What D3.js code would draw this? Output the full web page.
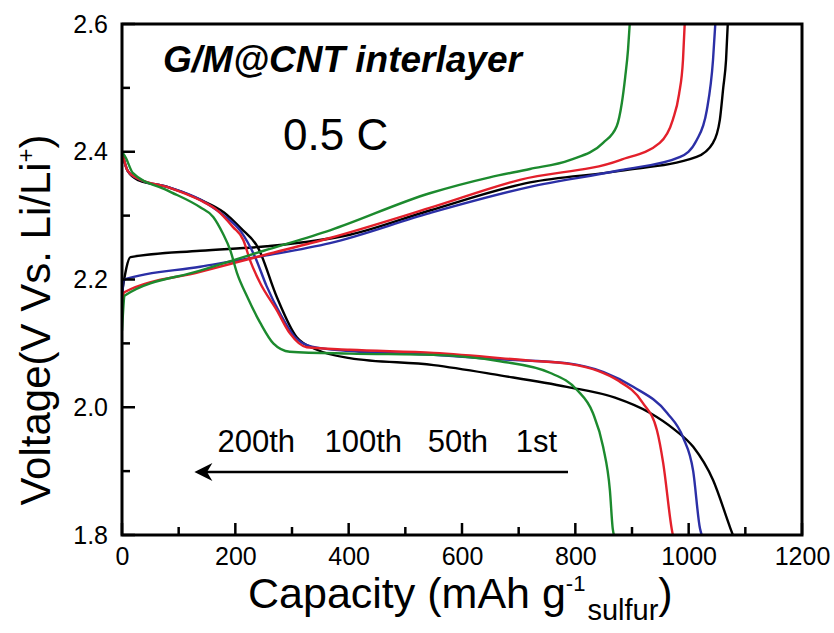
<!DOCTYPE html>
<html>
<head>
<meta charset="utf-8">
<script src="https://cdn.jsdelivr.net/npm/d3@7"></script>
<style>
  body { margin: 0; background: #fff; }
  text { font-family: "Liberation Sans", Arial, sans-serif; fill: #000; }
</style>
</head>
<body>
<div id="chart"></div>
<script>
// cycle labels and colours
var cycles = ['1st', '50th', '100th', '200th'];
var cycleColors = ['#000000', '#2b2fa6', '#e3202b', '#1c8a2e'];

// discharge curves [capacity, voltage]
var discharge1st = [[0,2.40],[10,2.37],[30,2.355],[80,2.345],[138,2.325],[180,2.305],[210,2.28],[240,2.25],[273,2.173],[308,2.11],[344,2.09],[402,2.077],[550,2.066],[667,2.05],[785,2.032],[870,2.015],[932,1.991],[975,1.965],[1008,1.938],[1043,1.886],[1073,1.812],[1078,1.80]];
var discharge50th = [[0,2.40],[10,2.37],[30,2.357],[80,2.345],[138,2.325],[180,2.30],[210,2.275],[235,2.235],[255,2.19],[280,2.145],[305,2.11],[335,2.095],[402,2.088],[550,2.082],[667,2.075],[785,2.069],[850,2.055],[902,2.032],[962,1.991],[990,1.953],[1008,1.90],[1020,1.81],[1023,1.80]];
var discharge100th = [[0,2.40],[10,2.37],[26,2.359],[79,2.345],[138,2.324],[167,2.309],[196,2.282],[214,2.262],[226,2.23],[244,2.194],[273,2.152],[296,2.116],[326,2.094],[402,2.09],[550,2.085],[720,2.073],[789,2.068],[840,2.057],[873,2.043],[919,2.007],[944,1.964],[955,1.913],[970,1.81],[972,1.80]];
var discharge200th = [[0,2.40],[7,2.39],[19,2.367],[79,2.34],[138,2.313],[161,2.298],[178,2.272],[191,2.246],[203,2.21],[221,2.173],[244,2.132],[267,2.10],[296,2.087],[402,2.084],[550,2.082],[667,2.072],[755,2.054],[803,2.027],[831,1.991],[849,1.938],[861,1.87],[866,1.81],[868,1.80]];

// charge curves [capacity, voltage]
var charge1st = [[0,2.18],[15,2.235],[138,2.245],[256,2.252],[402,2.27],[543,2.308],[720,2.352],[879,2.37],[1014,2.392],[1043,2.414],[1055,2.45],[1061,2.50],[1066,2.544],[1069,2.60]];
var charge50th = [[0,2.17],[4,2.20],[138,2.22],[250,2.237],[367,2.257],[543,2.304],[720,2.345],[879,2.371],[985,2.392],[1014,2.418],[1032,2.465],[1043,2.544],[1047,2.60]];
var charge100th = [[0,2.15],[4,2.18],[138,2.212],[250,2.238],[367,2.265],[543,2.312],[702,2.356],[879,2.387],[949,2.414],[972,2.45],[983,2.49],[990,2.544],[993,2.60]];
var charge200th = [[0,2.12],[5,2.175],[138,2.214],[250,2.245],[367,2.277],[543,2.335],[649,2.36],[720,2.373],[790,2.387],[849,2.414],[873,2.44],[882,2.476],[888,2.517],[893,2.56],[896,2.60]];

var dischargeData = [discharge1st, discharge50th, discharge100th, discharge200th];
var chargeData = [charge1st, charge50th, charge100th, charge200th];

var xTicks = [0, 200, 400, 600, 800, 1000, 1200];
var xMinor = [100, 300, 500, 700, 900, 1100];
var yTicks = [1.8, 2.0, 2.2, 2.4, 2.6];
var yMinor = [1.9, 2.1, 2.3, 2.5];

var W = 834, H = 633;
var margin = {left: 122, top: 24, right: 32, bottom: 98};
var w = W - margin.left - margin.right;
var h = H - margin.top - margin.bottom;

var svg = d3.select('#chart').append('svg')
  .attr('width', W)
  .attr('height', H);

var g = svg.append('g')
  .attr('transform', 'translate(' + margin.left + ',' + margin.top + ')');

var x = d3.scaleLinear().domain([0, 1200]).range([0, w]);
var y = d3.scaleLinear().domain([1.8, 2.6]).range([h, 0]);

// tick labels
g.append('g')
  .attr('transform', 'translate(0,' + h + ')')
  .call(d3.axisBottom(x).tickValues(xTicks).tickSize(0).tickPadding(12).tickFormat(d3.format('d')))
  .call(function(s){
    s.select('.domain').remove();
    s.selectAll('text').style('font-size', '25px').attr('font-family', null);
  });
g.append('g')
  .call(d3.axisLeft(y).tickValues(yTicks).tickSize(0).tickPadding(14).tickFormat(d3.format('.1f')))
  .call(function(s){
    s.select('.domain').remove();
    s.selectAll('text').style('font-size', '25px').attr('font-family', null);
  });

// curves
var line = d3.line()
  .x(function(d){ return x(d[0]); })
  .y(function(d){ return y(d[1]); })
  .curve(d3.curveMonotoneX);

svg.append('clipPath').attr('id', 'plot-clip')
  .append('rect').attr('width', w).attr('height', h);

var curves = g.append('g').attr('clip-path', 'url(#plot-clip)');
cycles.forEach(function(c, i){
  curves.append('path')
    .datum(chargeData[i])
    .attr('d', line)
    .attr('fill', 'none')
    .attr('stroke', cycleColors[i])
    .attr('stroke-width', 2.4);
  curves.append('path')
    .datum(dischargeData[i])
    .attr('d', line)
    .attr('fill', 'none')
    .attr('stroke', cycleColors[i])
    .attr('stroke-width', 2.4);
});

// inward tick marks
var ticks = g.append('g').attr('stroke', '#000').attr('stroke-width', 2.5);
ticks.selectAll('.xt')
  .data(xTicks.map(function(v){ return {v: v, len: 12}; })
    .concat(xMinor.map(function(v){ return {v: v, len: 8}; })))
  .enter().append('line')
  .attr('x1', function(d){ return x(d.v); })
  .attr('x2', function(d){ return x(d.v); })
  .attr('y1', h)
  .attr('y2', function(d){ return h - d.len; });
ticks.selectAll('.yt')
  .data(yTicks.map(function(v){ return {v: v, len: 13}; })
    .concat(yMinor.map(function(v){ return {v: v, len: 8}; })))
  .enter().append('line')
  .attr('x1', 0)
  .attr('x2', function(d){ return d.len; })
  .attr('y1', function(d){ return y(d.v); })
  .attr('y2', function(d){ return y(d.v); });

// frame
g.append('rect')
  .attr('width', w)
  .attr('height', h)
  .attr('fill', 'none')
  .attr('stroke', '#000')
  .attr('stroke-width', 3);

// axis titles
var xt = svg.append('text')
  .attr('x', 248)
  .attr('y', 608)
  .style('font-size', '43px');
xt.append('tspan').text('Capacity (mAh g');
xt.append('tspan').attr('dy', -17).style('font-size', '22px').text('-1');
xt.append('tspan').attr('dy', 29).attr('dx', 2).style('font-size', '29px').text('sulfur');
xt.append('tspan').attr('dy', -12).text(')');

var yt = svg.append('text')
  .attr('transform', 'translate(50,320) rotate(-90)')
  .attr('text-anchor', 'middle')
  .style('font-size', '42px');
yt.append('tspan').text('Voltage(V Vs. Li/Li');
yt.append('tspan').attr('dy', -16).style('font-size', '24px').text('+');
yt.append('tspan').attr('dy', 16).text(')');

// annotations
svg.append('text')
  .attr('x', 163)
  .attr('y', 72)
  .style('font-size', '37px')
  .style('font-weight', 'bold')
  .style('font-style', 'italic')
  .text('G/M@CNT interlayer');

svg.append('text')
  .attr('x', 283)
  .attr('y', 150)
  .style('font-size', '44px')
  .text('0.5 C');

var labelX = [557, 488, 402, 295];
cycles.forEach(function(c, i){
  svg.append('text')
    .attr('x', labelX[i])
    .attr('y', 452)
    .attr('text-anchor', 'end')
    .style('font-size', '31px')
    .text(c);
});

// arrow pointing toward lower capacity
svg.append('defs').append('marker')
  .attr('id', 'arrowhead')
  .attr('viewBox', '0 0 10 10')
  .attr('refX', 8).attr('refY', 5)
  .attr('markerUnits', 'userSpaceOnUse')
  .attr('markerWidth', 30).attr('markerHeight', 18)
  .attr('orient', 'auto')
  .append('path').attr('d', 'M0,0 L10,5 L0,10 L3,5 Z').attr('fill', '#000');

svg.append('line')
  .attr('x1', 568).attr('y1', 472)
  .attr('x2', 198).attr('y2', 472)
  .attr('stroke', '#000')
  .attr('stroke-width', 2.5)
  .attr('marker-end', 'url(#arrowhead)');
</script>
</body>
</html>
